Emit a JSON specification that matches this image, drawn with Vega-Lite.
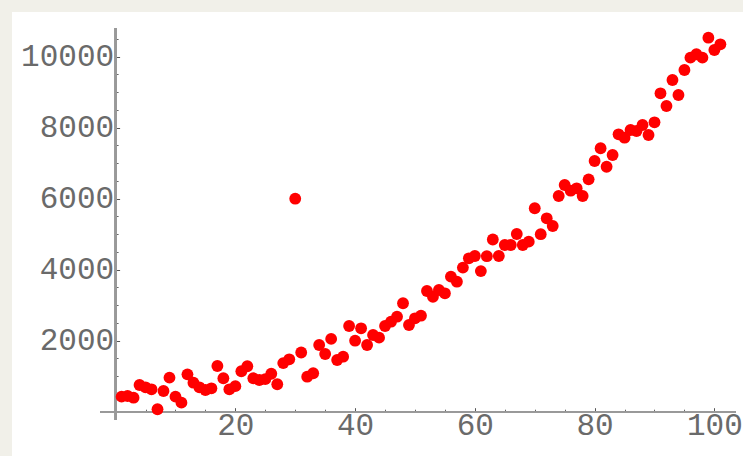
{
  "$schema": "https://vega.github.io/schema/vega-lite/v6.json",
  "width": 731,
  "height": 444,
  "autosize": {"type": "none"},
  "padding": {"left": 12, "top": 12, "right": 0, "bottom": 0},
  "background": "#f1f0e9",
  "config": {"view": {"fill": "white", "stroke": null}},
  "data": {"values": [
    {"x": 1, "y": 423}, {"x": 2, "y": 442}, {"x": 3, "y": 394}, {"x": 4, "y": 752}, {"x": 5, "y": 687},
    {"x": 6, "y": 631}, {"x": 7, "y": 68}, {"x": 8, "y": 583}, {"x": 9, "y": 958}, {"x": 10, "y": 423},
    {"x": 11, "y": 254}, {"x": 12, "y": 1053}, {"x": 13, "y": 817}, {"x": 14, "y": 687}, {"x": 15, "y": 611},
    {"x": 16, "y": 659}, {"x": 17, "y": 1287}, {"x": 18, "y": 941}, {"x": 19, "y": 631}, {"x": 20, "y": 720},
    {"x": 21, "y": 1140}, {"x": 22, "y": 1280}, {"x": 23, "y": 941}, {"x": 24, "y": 893}, {"x": 25, "y": 917},
    {"x": 26, "y": 1068}, {"x": 27, "y": 772}, {"x": 28, "y": 1370}, {"x": 29, "y": 1476}, {"x": 30, "y": 6000},
    {"x": 31, "y": 1668}, {"x": 32, "y": 986}, {"x": 33, "y": 1082}, {"x": 34, "y": 1879}, {"x": 35, "y": 1625},
    {"x": 36, "y": 2050}, {"x": 37, "y": 1456}, {"x": 38, "y": 1549}, {"x": 39, "y": 2414}, {"x": 40, "y": 2000},
    {"x": 41, "y": 2349}, {"x": 42, "y": 1879}, {"x": 43, "y": 2161}, {"x": 44, "y": 2085}, {"x": 45, "y": 2414},
    {"x": 46, "y": 2535}, {"x": 47, "y": 2676}, {"x": 48, "y": 3054}, {"x": 49, "y": 2442}, {"x": 50, "y": 2631},
    {"x": 51, "y": 2704}, {"x": 52, "y": 3400}, {"x": 53, "y": 3239}, {"x": 54, "y": 3428}, {"x": 55, "y": 3335},
    {"x": 56, "y": 3803}, {"x": 57, "y": 3662}, {"x": 58, "y": 4060}, {"x": 59, "y": 4321}, {"x": 60, "y": 4386},
    {"x": 61, "y": 3960}, {"x": 62, "y": 4380}, {"x": 63, "y": 4850}, {"x": 64, "y": 4386}, {"x": 65, "y": 4696},
    {"x": 66, "y": 4696}, {"x": 67, "y": 5006}, {"x": 68, "y": 4696}, {"x": 69, "y": 4789}, {"x": 70, "y": 5730},
    {"x": 71, "y": 5000}, {"x": 72, "y": 5448}, {"x": 73, "y": 5230}, {"x": 74, "y": 6076}, {"x": 75, "y": 6386},
    {"x": 76, "y": 6225}, {"x": 77, "y": 6293}, {"x": 78, "y": 6076}, {"x": 79, "y": 6546}, {"x": 80, "y": 7062},
    {"x": 81, "y": 7420}, {"x": 82, "y": 6901}, {"x": 83, "y": 7231}, {"x": 84, "y": 7814}, {"x": 85, "y": 7718},
    {"x": 86, "y": 7935}, {"x": 87, "y": 7907}, {"x": 88, "y": 8076}, {"x": 89, "y": 7794}, {"x": 90, "y": 8152},
    {"x": 91, "y": 8969}, {"x": 92, "y": 8611}, {"x": 93, "y": 9344}, {"x": 94, "y": 8921}, {"x": 95, "y": 9625},
    {"x": 96, "y": 9972}, {"x": 97, "y": 10068}, {"x": 98, "y": 9972}, {"x": 99, "y": 10535}, {"x": 100, "y": 10189},
    {"x": 101, "y": 10349}
  ]},
  "resolve": {"axis": {"x": "independent", "y": "independent"}},
  "layer": [
    {
      "mark": {"type": "rule", "color": "#999999", "strokeWidth": 1.5},
      "encoding": {
        "x": {"datum": -2.6, "type": "quantitative",
              "scale": {"domain": [-17.3, 104.78], "nice": false, "zero": false},
              "axis": {"orient": "bottom", "offset": -44.3, "values": [5, 10, 15, 25, 30, 35, 45, 50, 55, 65, 70, 75, 85, 90, 95],
                       "labels": false, "domain": false, "grid": false, "tickSize": -2.5, "tickColor": "#666666", "tickWidth": 1, "title": null}},
        "x2": {"datum": 103.6},
        "y": {"datum": 0, "type": "quantitative",
              "scale": {"domain": [-1248, 11259], "nice": false, "zero": false},
              "axis": null}
      }
    },
    {
      "mark": {"type": "rule", "color": "#999999", "strokeWidth": 1.5},
      "encoding": {
        "x": {"datum": 0, "type": "quantitative",
              "scale": {"domain": [-17.3, 104.78], "nice": false, "zero": false},
              "axis": null},
        "y": {"datum": -234, "type": "quantitative",
              "scale": {"domain": [-1248, 11259], "nice": false, "zero": false},
              "axis": {"orient": "left", "offset": -103.6, "values": [500, 1000, 1500, 2500, 3000, 3500, 4500, 5000, 5500, 6500, 7000, 7500, 8500, 9000, 9500, 10500],
                       "labels": false, "domain": false, "grid": false, "tickSize": -2.5, "tickColor": "#666666", "tickWidth": 1, "title": null}},
        "y2": {"datum": 10808}
      }
    },
    {
      "mark": {"type": "point", "filled": true, "color": "#ff0000", "opacity": 1, "size": 140},
      "encoding": {
        "x": {"field": "x", "type": "quantitative",
              "scale": {"domain": [-17.3, 104.78], "nice": false, "zero": false},
              "axis": {"orient": "bottom", "offset": -44.3, "values": [20, 40, 60, 80, 100], "format": "d",
                       "domain": false, "grid": false, "tickSize": -4, "tickColor": "#555555", "tickWidth": 1,
                       "labelFont": "Liberation Mono", "labelFontSize": 31, "labelColor": "#6a6a6a", "labelPadding": 3, "title": null}},
        "y": {"field": "y", "type": "quantitative",
              "scale": {"domain": [-1248, 11259], "nice": false, "zero": false},
              "axis": {"orient": "left", "offset": -103.6, "values": [2000, 4000, 6000, 8000, 10000], "format": "d",
                       "domain": false, "grid": false, "tickSize": -4, "tickColor": "#555555", "tickWidth": 1,
                       "labelFont": "Liberation Mono", "labelFontSize": 31, "labelColor": "#6a6a6a", "labelPadding": 6, "title": null}}
      }
    }
  ]
}
